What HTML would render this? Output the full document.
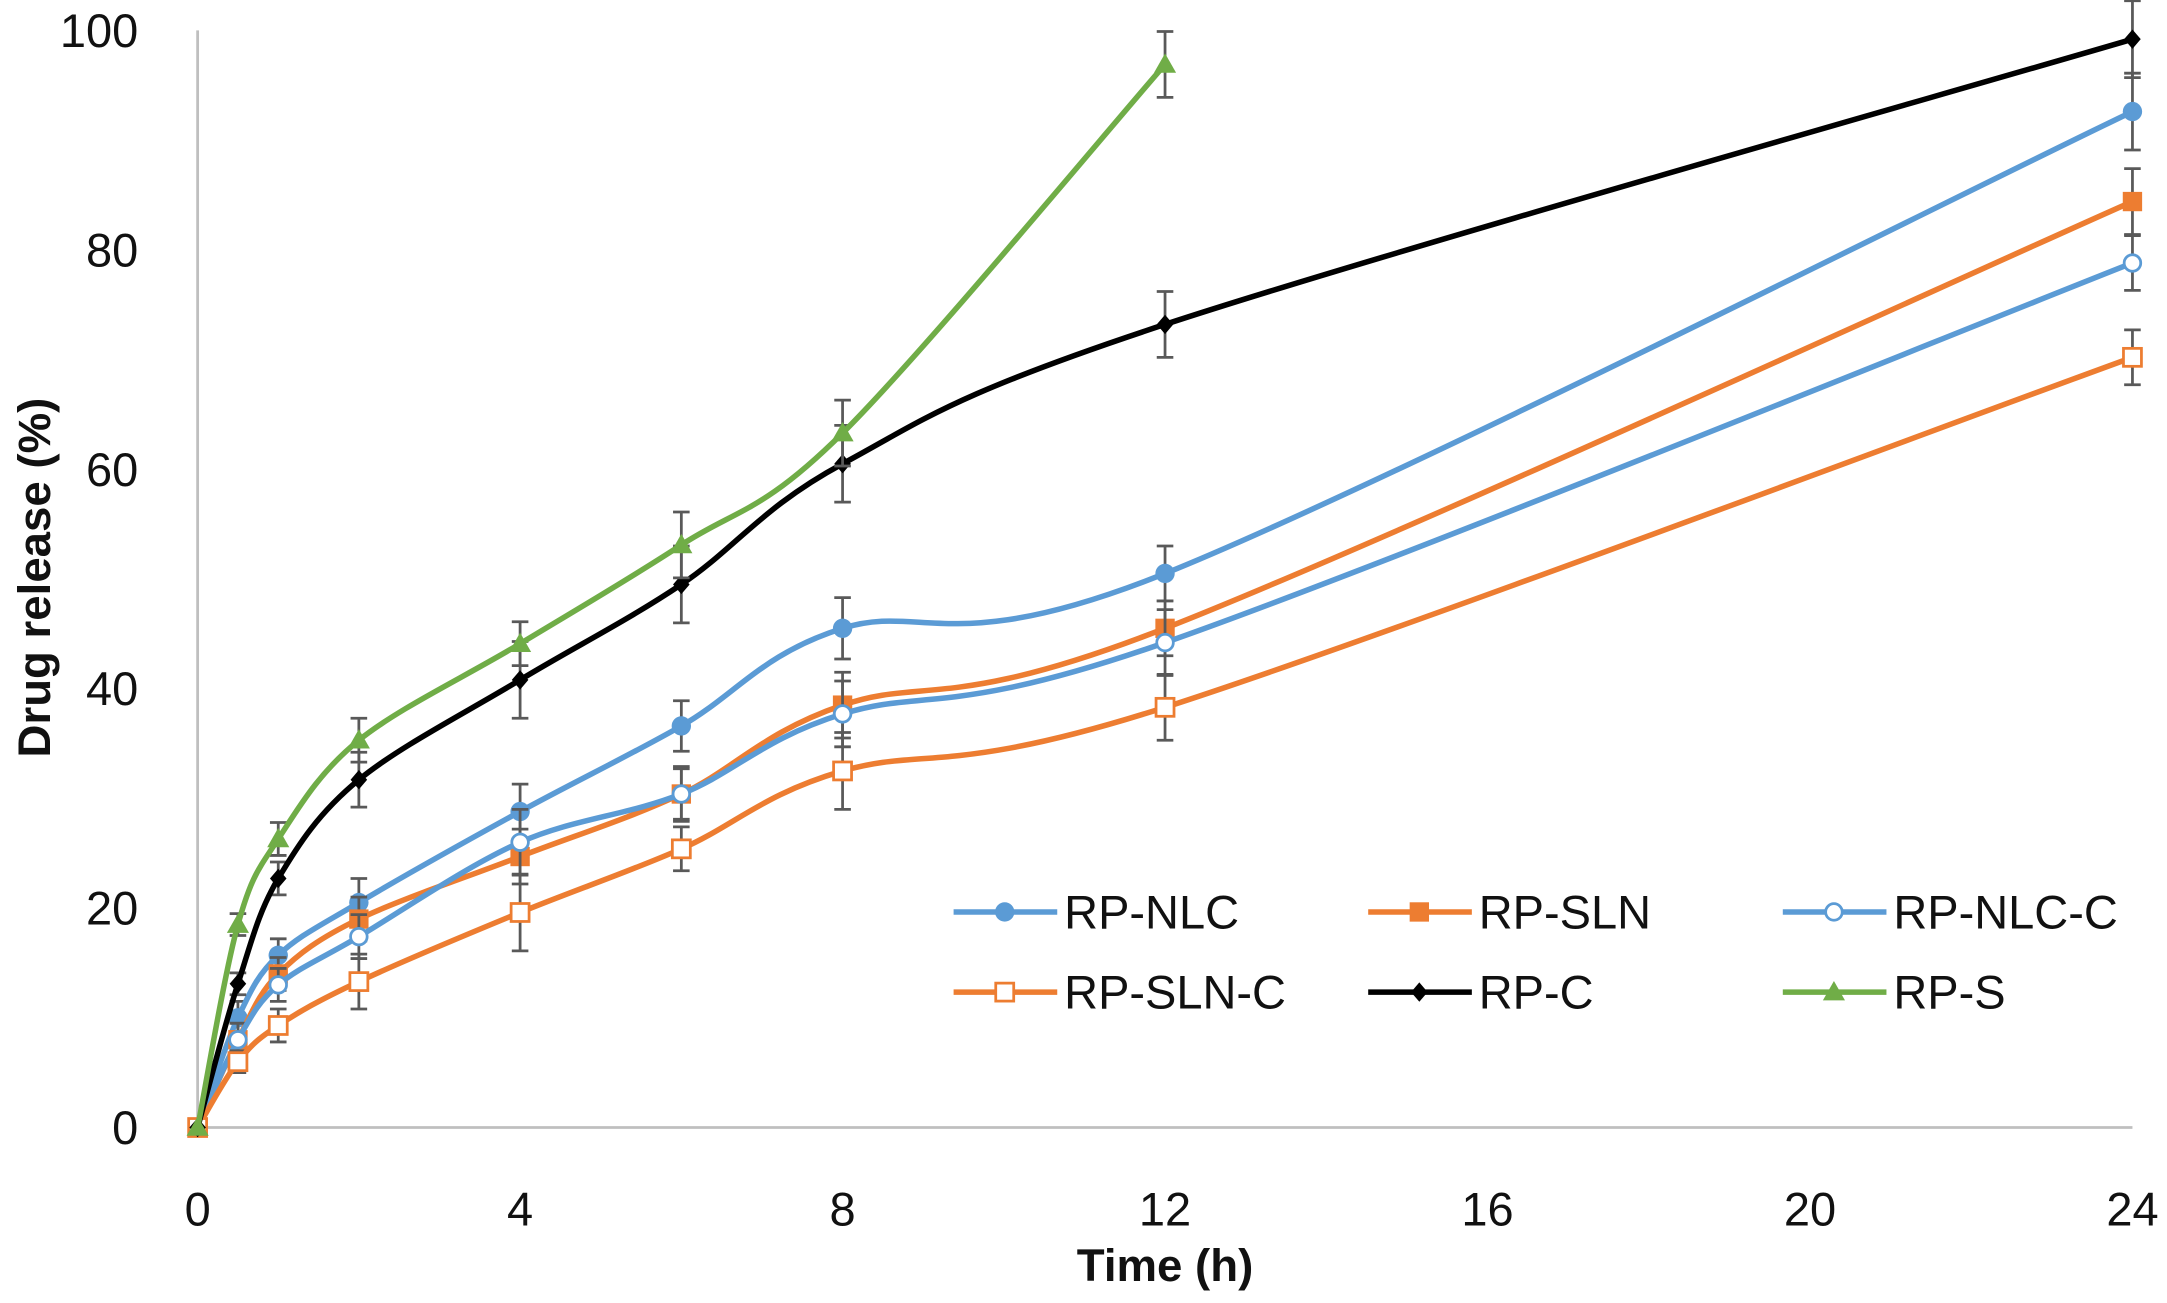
<!DOCTYPE html>
<html><head><meta charset="utf-8"><style>
html,body{margin:0;padding:0;background:#fff;}
svg{display:block;}
text{font-family:"Liberation Sans",sans-serif;}
</style></head><body>
<svg id="chart" width="2167" height="1303" viewBox="0 0 1568 943" preserveAspectRatio="none" xmlns="http://www.w3.org/2000/svg"></svg>
<script>
const hours = [0, 0.5, 1, 2, 4, 6, 8, 12, 24];
const rpNlc = [0, 10, 15.7, 20.5, 28.8, 36.6, 45.5, 50.5, 92.6];
const rpSln = [0, 8, 14, 19, 24.7, 30.4, 38.5, 45.5, 84.4];
const rpNlcC = [0, 8, 13, 17.4, 26, 30.4, 37.7, 44.2, 78.8];
const rpSlnC = [0, 6, 9.3, 13.3, 19.6, 25.4, 32.5, 38.3, 70.2];
const rpC = [0, 13.1, 22.7, 31.7, 40.8, 49.5, 60.5, 73.2, 99.2];
const rpS = [0, 18.5, 26.3, 35.3, 44.1, 53.1, 63.3, 96.9];
const errNlc = [0, 1.5, 1.5, 2.2, 2.5, 2.3, 2.8, 2.5, 3.5];
const errSln = [0, 1.5, 1.5, 2, 2.5, 2.3, 3, 2.5, 3];
const errNlcC = [0, 1.5, 1.5, 2, 3, 2.5, 3, 3, 2.5];
const errSlnC = [0, 1, 1.5, 2.5, 3.5, 2, 3.5, 3, 2.5];
const errC = [0, 1, 1.5, 2.5, 3.5, 3.5, 3.5, 3, 3.5];
const errS = [0, 1, 1.5, 2, 2, 3, 3, 3];
const xTicks = [0, 4, 8, 12, 16, 20, 24];
const yTicks = [0, 20, 40, 60, 80, 100];
const seriesNames = ["RP-NLC", "RP-SLN", "RP-NLC-C", "RP-SLN-C", "RP-C", "RP-S"];

const svg = document.getElementById('chart');
const NS = 'http://www.w3.org/2000/svg';
const X0 = 143, X1 = 1543, Y0 = 816, Y1 = 22;
const xs = v => X0 + v / 24 * (X1 - X0);
const ys = v => Y0 - v / 100 * (Y0 - Y1);
function mk(tag, attrs, parent) {
  const e = document.createElementNS(NS, tag);
  for (const k in attrs) e.setAttribute(k, attrs[k]);
  (parent || svg).appendChild(e);
  return e;
}
// axes
const yAxis = mk('line', {x1: X0, y1: Y1, x2: X0, y2: Y0, stroke: '#bfbfbf', 'stroke-width': 2});


const xAxis = mk('line', {x1: X0, y1: Y0, x2: X1, y2: Y0, stroke: '#bfbfbf', 'stroke-width': 2});


yTicks.forEach(t => {
  const e = mk('text', {x: 100, y: ys(t) + 12, 'text-anchor': 'end', 'font-size': 34, fill: '#111'});
  e.textContent = t;
  
  
});
xTicks.forEach(t => {
  const e = mk('text', {x: xs(t), y: 887, 'text-anchor': 'middle', 'font-size': 34, fill: '#111'});
  e.textContent = t;
  
  
});
const xt = mk('text', {x: 843, y: 927, 'text-anchor': 'middle', 'font-size': 33, 'font-weight': 'bold', fill: '#111'});
xt.textContent = 'Time (h)';


const yt = mk('text', {x: 0, y: 0, 'text-anchor': 'middle', 'font-size': 33, 'font-weight': 'bold', fill: '#111', transform: 'translate(36,418) rotate(-90)'});
yt.textContent = 'Drug release (%)';



function smoothPath(pts) {
  let d = 'M' + pts[0][0] + ',' + pts[0][1];
  for (let i = 0; i < pts.length - 1; i++) {
    const p0 = pts[i - 1] || pts[i], p1 = pts[i], p2 = pts[i + 1], p3 = pts[i + 2] || p2;
    const t = 1 / 6;
    const c1 = [p1[0] + (p2[0] - p0[0]) * t, p1[1] + (p2[1] - p0[1]) * t];
    const c2 = [p2[0] - (p3[0] - p1[0]) * t, p2[1] - (p3[1] - p1[1]) * t];
    d += ' C' + c1 + ' ' + c2 + ' ' + p2;
  }
  return d;
}
function marker(type, x, y, color, g) {
  let e;
  if (type === 'circle') e = mk('circle', {cx: x, cy: y, r: 7, fill: color}, g);
  else if (type === 'ocircle') e = mk('circle', {cx: x, cy: y, r: 6, fill: '#fff', stroke: color, 'stroke-width': 2}, g);
  else if (type === 'square') e = mk('rect', {x: x - 7, y: y - 7, width: 14, height: 14, fill: color}, g);
  else if (type === 'osquare') e = mk('rect', {x: x - 6.5, y: y - 6.5, width: 13, height: 13, fill: '#fff', stroke: color, 'stroke-width': 2}, g);
  else if (type === 'diamond') e = mk('path', {d: `M${x},${y-7} L${x+6},${y} L${x},${y+7} L${x-6},${y}Z`, fill: color}, g);
  else e = mk('path', {d: `M${x},${y-8} L${x+8},${y+6} L${x-8},${y+6}Z`, fill: color}, g);
  return e;
}
const series = [
  {vals: rpNlc, err: errNlc, color: '#5B9BD5', m: 'circle'},
  {vals: rpSln, err: errSln, color: '#ED7D31', m: 'square'},
  {vals: rpNlcC, err: errNlcC, color: '#5B9BD5', m: 'ocircle'},
  {vals: rpSlnC, err: errSlnC, color: '#ED7D31', m: 'osquare'},
  {vals: rpC, err: errC, color: '#000000', m: 'diamond'},
  {vals: rpS, err: errS, color: '#70AD47', m: 'triangle'}
];
series.forEach((s, si) => {
  const g = mk('g', {});
  
  
  const pts = s.vals.map((v, i) => [xs(hours[i]), ys(v)]);
  s.vals.forEach((v, i) => {
    const e = s.err[i];
    if (!e) return;
    const x = xs(hours[i]);
    const eb = mk('path', {d: `M${x},${ys(v+e)} V${ys(v-e)} M${x-6},${ys(v+e)} H${x+6} M${x-6},${ys(v-e)} H${x+6}`, stroke: '#595959', 'stroke-width': 2, fill: 'none'}, g);
    
    
  });
  const line = mk('path', {d: smoothPath(pts), stroke: s.color, 'stroke-width': 4, fill: 'none'}, g);
  
  
  pts.forEach(p => {
    const mm = marker(s.m, p[0], p[1], s.color, g);
    
    
  });
});
// legend
const lg = mk('g', {});


series.forEach((s, i) => {
  const col = i % 3, row = Math.floor(i / 3);
  const lx = 690 + col * 300, ly = 660 + row * 58;
  const ent = mk('g', {}, lg);
  
  
  mk('line', {x1: lx, y1: ly, x2: lx + 75, y2: ly, stroke: s.color, 'stroke-width': 4}, ent);
  marker(s.m, lx + 37, ly, s.color, ent);
  const t = mk('text', {x: lx + 80, y: ly + 12, 'font-size': 34, fill: '#111'}, ent);
  t.textContent = seriesNames[i];
});
</script>
</body></html>
